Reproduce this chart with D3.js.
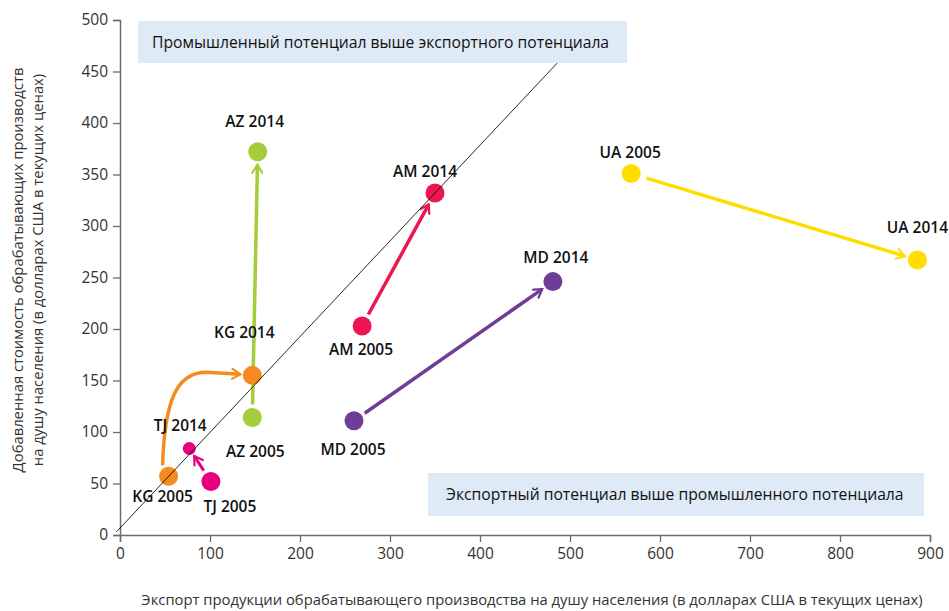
<!DOCTYPE html>
<html>
<head>
<meta charset="utf-8">
<script src="https://cdn.jsdelivr.net/npm/d3@7"></script>
<style>
  body { margin: 0; background: #fff; }
  svg { font-family: "Open Sans", "Noto Sans", sans-serif; }
</style>
</head>
<body>
<svg id="svg" width="949" height="611"></svg>
<script>
// values
var countries = ["AZ", "KG", "TJ", "AM", "MD", "UA"];
var exports2005 = [147, 54, 101, 269, 260, 568];
var value2005   = [114, 57, 52, 203, 111, 351];
var exports2014 = [153, 147, 77, 350, 481, 886];
var value2014   = [372, 155, 84, 332, 246, 267];
var colors = ["#a3cd39", "#f58a1f", "#e6007e", "#ed1651", "#6f3d97", "#ffdd00"];

var xTicks = [0, 100, 200, 300, 400, 500, 600, 700, 800, 900];
var yTicks = [0, 50, 100, 150, 200, 250, 300, 350, 400, 450, 500];

var xTitle = "Экспорт продукции обрабатывающего производства на душу населения (в долларах США в текущих ценах)";
var yTitle = ["Добавленная стоимость обрабатывающих производств", "на душу населения (в долларах США в текущих ценах)"];
var topNote = "Промышленный потенциал выше экспортного потенциала";
var bottomNote = "Экспортный потенциал выше промышленного потенциала";

// reference diagonal (data units)
var diag = [[-4, 3], [520, 490]];

// label offsets from the dot, pixels [dx, baseline dy]
var labelPos = {
  "AZ 2005": [3, 39], "AZ 2014": [-3, -25],
  "KG 2005": [-6, 26], "KG 2014": [-8, -37],
  "TJ 2005": [19, 31], "TJ 2014": [-9, -17],
  "AM 2005": [-1, 29], "AM 2014": [-10, -16],
  "MD 2005": [-1, 34], "MD 2014": [3, -19],
  "UA 2005": [-1, -15], "UA 2014": [0, -27]
};

var svg = d3.select("svg");

var x = d3.scaleLinear().domain([0, 900]).range([120, 930]);
var y = d3.scaleLinear().domain([0, 500]).range([535, 20]);

// axes
var xAxis = svg.append("g")
    .attr("transform", "translate(0,535)")
    .call(d3.axisBottom(x).tickValues(xTicks).tickSize(7).tickPadding(6));
var yAxis = svg.append("g")
    .attr("transform", "translate(120,0)")
    .call(d3.axisLeft(y).tickValues(yTicks).tickSize(7).tickPadding(5));

[xAxis, yAxis].forEach(function(a) {
  a.select(".domain").attr("stroke", "#6d6d6d").attr("stroke-width", 1.5);
  a.selectAll(".tick line").attr("stroke", "#6d6d6d").attr("stroke-width", 1.3);
  a.selectAll(".tick text").attr("fill", "#333").style("font-size", "15.5px")
    .style("font-family", "'Open Sans', sans-serif");
});

// axis titles
svg.append("text")
    .attr("x", 532).attr("y", 605)
    .attr("text-anchor", "middle")
    .attr("fill", "#333")
    .style("font-size", "14.8px")
    .text(xTitle);

svg.append("g")
    .attr("transform", "translate(23,270) rotate(-90)")
  .selectAll("text")
  .data(yTitle)
  .enter().append("text")
    .attr("x", 0).attr("y", function(d, i) { return i * 20; })
    .attr("text-anchor", "middle")
    .attr("fill", "#333")
    .style("font-size", "14.8px")
    .text(function(d) { return d; });

// build a flat list of dots
var dots = [];
countries.forEach(function(c, i) {
  dots.push({ key: c + " 2005", x: exports2005[i], y: value2005[i], color: colors[i], r: 9.5 });
  dots.push({ key: c + " 2014", x: exports2014[i], y: value2014[i], color: colors[i], r: c == "TJ" ? 6.5 : 9.5 });
});

// arrow markers, open chevrons
var defs = svg.append("defs");
countries.forEach(function(c, i) {
  defs.append("marker")
      .attr("id", "arr-" + c)
      .attr("viewBox", "-10 -6 12 12")
      .attr("refX", 0).attr("refY", 0)
      .attr("markerWidth", 12).attr("markerHeight", 12)
      .attr("markerUnits", "userSpaceOnUse")
      .attr("orient", "auto")
    .append("path")
      .attr("d", "M-8,-5 L0,0 L-8,5")
      .attr("fill", "none")
      .attr("stroke", colors[i])
      .attr("stroke-width", 2.2)
      .attr("stroke-linecap", "round")
      .attr("stroke-linejoin", "miter");
});

// arrows between 2005 and 2014
var arrows = svg.append("g");
countries.forEach(function(c, i) {
  var x0 = x(exports2005[i]), y0 = y(value2005[i]);
  var x1 = x(exports2014[i]), y1 = y(value2014[i]);
  var d;
  if (c == "KG") {
    // curved path: up from 2005 then across to 2014
    var p = d3.path();
    p.moveTo(x0 - 6, y0 - 11);
    p.bezierCurveTo(x0 - 4, y1 + 25, x0 + 8, y1 - 3, x0 + 38, y1 - 3);
    p.lineTo(x1 - 12, y1 - 1);
    d = p.toString();
  } else {
    var dx = x1 - x0, dy = y1 - y0, len = Math.sqrt(dx * dx + dy * dy);
    var ux = dx / len, uy = dy / len;
    var s = c == "UA" ? 16 : 13, e = c == "TJ" ? 9 : 13;
    d = "M" + (x0 + ux * s) + "," + (y0 + uy * s) + "L" + (x1 - ux * e) + "," + (y1 - uy * e);
  }
  arrows.append("path")
      .attr("d", d)
      .attr("fill", "none")
      .attr("stroke", colors[i])
      .attr("stroke-width", c == "TJ" ? 3 : 3.5)
      .attr("marker-end", "url(#arr-" + c + ")");
});

// dots
svg.append("g").selectAll("circle")
  .data(dots)
  .enter().append("circle")
    .attr("cx", function(d) { return x(d.x); })
    .attr("cy", function(d) { return y(d.y); })
    .attr("r", function(d) { return d.r; })
    .attr("fill", function(d) { return d.color; });

// diagonal line on top of the dots
svg.append("line")
    .attr("x1", x(diag[0][0])).attr("y1", y(diag[0][1]))
    .attr("x2", x(diag[1][0])).attr("y2", y(diag[1][1]))
    .attr("stroke", "#111")
    .attr("stroke-width", 0.9);

// note boxes
function note(x0, x1, y0, y1, txt, tx) {
  svg.append("rect")
      .attr("x", x0).attr("y", y0)
      .attr("width", x1 - x0).attr("height", y1 - y0)
      .attr("fill", "#deeaf6");
  svg.append("text")
      .attr("x", tx).attr("y", (y0 + y1) / 2 + 5.5)
      .attr("fill", "#111")
      .style("font-size", "15.7px")
      .text(txt);
}
note(138, 627, 21, 63, topNote, 152);
note(428, 924, 473, 516, bottomNote, 446);

// dot labels
svg.append("g").selectAll("text")
  .data(dots)
  .enter().append("text")
    .attr("x", function(d) { return x(d.x) + labelPos[d.key][0]; })
    .attr("y", function(d) { return y(d.y) + labelPos[d.key][1]; })
    .attr("text-anchor", "middle")
    .attr("fill", "#111")
    .style("font-size", "15.5px")
    .style("font-weight", 600)
    .text(function(d) { return d.key; });
</script>
</body>
</html>
